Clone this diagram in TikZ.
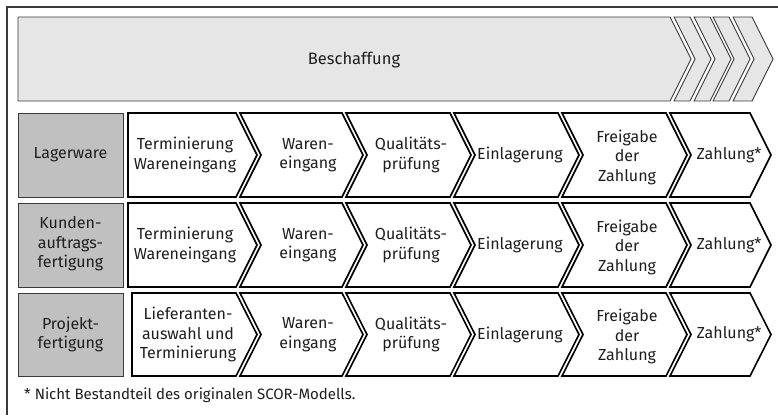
\documentclass[tikz,border=0pt]{standalone}
\usepackage{fontspec}
\setmainfont{Fira Sans}
\definecolor{bannerfill}{HTML}{E6E6E6}
\definecolor{boxfill}{HTML}{C0C0C0}
\definecolor{framecol}{HTML}{3A3A3A}
\definecolor{txt}{HTML}{1E1E1E}
\newcommand\dd{21}
\newcommand\mychev[6]{% L, R, top, bottom, notch, depth
  \draw[chevstyle] (#1,#3) -- (#2,#3) -- ({#2+#6},{(#3+#4)/2}) -- (#2,#4) -- (#1,#4) -- ({#1+#5},{(#3+#4)/2}) -- cycle;}
\begin{document}
\begin{tikzpicture}[x=1pt,y=-1pt,
  chevstyle/.style={draw=black,line width=1.6pt,fill=white,line join=miter},
  bchev/.style={draw=framecol,line width=0.9pt,fill=bannerfill,line join=miter},
  labelbox/.style={draw=framecol,line width=0.9pt,fill=boxfill},
  lbl/.style={align=center,text=txt,font=\fontsize{16}{19.5}\selectfont,inner sep=0pt}]
\useasboundingbox (0,0) rectangle (778,415);
% outer frame (top and left only visible)
\draw[framecol,line width=1.4pt] (7,415) -- (7,7) -- (778,7);
% banner
\draw[bchev] (18,17) -- (670,17) -- (691,59) -- (670,101) -- (18,101) -- cycle;
\foreach \l/\r in {674/690,694/710,713/729,733/752}{
  \draw[bchev] (\l,17) -- (\r,17) -- ({\r+21},59) -- (\r,101) -- (\l,101) -- ({\l+21},59) -- cycle;}
\node[lbl,font=\fontsize{16.5}{20}\selectfont] (besch) at (354,60) {Beschaffung};
% row boxes
\draw[labelbox] (18,113) rectangle (123,197);
\draw[labelbox] (18,203) rectangle (123,287);
\draw[labelbox] (18,293) rectangle (123,376);
\node[lbl] (r1) at (70.5,155) {Lagerware};
\node[lbl] (r2) at (70.5,244) {Kunden-\\auftrags-\\fertigung};
\node[lbl] (r3) at (70.5,334.5) {Projekt-\\fertigung};
% chevrons
\foreach \t/\b in {113/197,203/287}{
  \mychev{128}{236}{\t}{\b}{0}{\dd}
}
\mychev{132}{236}{293}{376}{0}{\dd}
\foreach \t/\b in {113/197,203/287,293/376}{
  \mychev{240}{342}{\t}{\b}{\dd}{\dd}
  \mychev{346}{450}{\t}{\b}{\dd}{\dd}
  \mychev{454}{558}{\t}{\b}{\dd}{\dd}
  \mychev{562}{666}{\t}{\b}{\dd}{\dd}
  \mychev{670}{750}{\t}{\b}{\dd}{\dd}
}
% texts row 1
\node[lbl] (a1) at (185,155) {Terminierung\\Wareneingang};
\node[lbl] (a2) at (308,155) {Waren-\\eingang};
\node[lbl] (a3) at (411,155) {Qualitäts-\\prüfung};
\node[lbl] (a4) at (520,155) {Einlagerung};
\node[lbl] (a5) at (627,157) {Freigabe\\der\\Zahlung};
\node[lbl] (a6) at (729,155) {Zahlung*};
% row 2
\node[lbl] (b1) at (185,245) {Terminierung\\Wareneingang};
\node[lbl] (b2) at (308,245) {Waren-\\eingang};
\node[lbl] (b3) at (411,245) {Qualitäts-\\prüfung};
\node[lbl] (b4) at (520,245) {Einlagerung};
\node[lbl] (b5) at (627,247) {Freigabe\\der\\Zahlung};
\node[lbl] (b6) at (729,245) {Zahlung*};
% row 3
\node[lbl] (c1) at (188,334.5) {Lieferanten-\\auswahl und\\Terminierung};
\node[lbl] (c2) at (308,334.5) {Waren-\\eingang};
\node[lbl] (c3) at (411,334.5) {Qualitäts-\\prüfung};
\node[lbl] (c4) at (520,334.5) {Einlagerung};
\node[lbl] (c5) at (627,336.5) {Freigabe\\der\\Zahlung};
\node[lbl] (c6) at (729,334.5) {Zahlung*};
% footnote
\node[lbl,anchor=west,font=\fontsize{15}{19}\selectfont] (fn) at (24,395) {* Nicht Bestandteil des originalen SCOR-Modells.};
\end{tikzpicture}
\end{document}
